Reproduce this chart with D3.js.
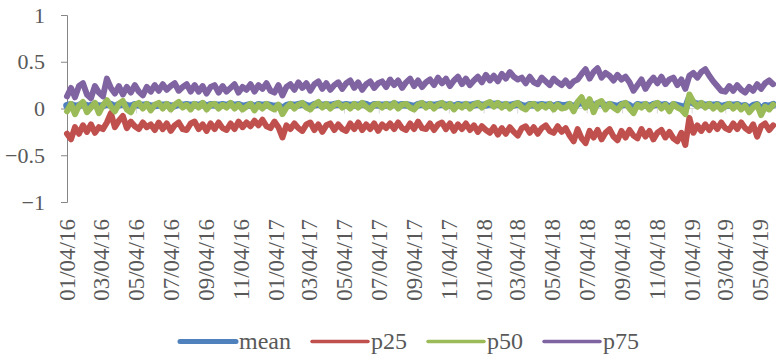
<!DOCTYPE html>
<html>
<head>
<meta charset="utf-8">
<script src="https://cdn.jsdelivr.net/npm/d3@7/dist/d3.min.js"></script>
<style>
  html, body { margin: 0; padding: 0; background: #fff; }
  svg { display: block; }
</style>
</head>
<body>
<script>
// weekly readings, first week starts 01/04/16 (mm/dd/yy)
const startDate = '01/04/16';

const tickLabels = ['01/04/16', '03/04/16', '05/04/16', '07/04/16', '09/04/16', '11/04/16',
  '01/04/17', '03/04/17', '05/04/17', '07/04/17', '09/04/17', '11/04/17',
  '01/04/18', '03/04/18', '05/04/18', '07/04/18', '09/04/18', '11/04/18',
  '01/04/19', '03/04/19', '05/04/19'];

const yTicks = [-1, -0.5, 0, 0.5, 1];

const seriesNames = ['mean', 'p25', 'p50', 'p75'];
const seriesColors = ['#4f81bd', '#c0504d', '#9bbb59', '#8064a2'];

const meanValues = [
  0.03, 0.04, 0.02, 0.03, 0.05, 0.02, 0.03, 0.04, 0.02, 0.03,
  0.05, 0.04, 0.02, 0.04, 0.05, 0.03, 0.02, 0.04, 0.04, 0.03,
  0.04, 0.02, 0.03, 0.04, 0.03, 0.04, 0.02, 0.03, 0.05, 0.03,
  0.04, 0.03, 0.04, 0.03, 0.05, 0.02, 0.04, 0.04, 0.03, 0.04,
  0.03, 0.05, 0.03, 0.04, 0.02, 0.03, 0.04, 0.02, 0.04, 0.03,
  0.04, 0.03, 0.02, 0.03, 0.0, 0.03, 0.04, 0.03, 0.04, 0.05,
  0.03, 0.02, 0.04, 0.05, 0.03, 0.04, 0.03, 0.04, 0.05, 0.03,
  0.04, 0.03, 0.04, 0.03, 0.05, 0.04, 0.02, 0.04, 0.04, 0.03,
  0.04, 0.03, 0.05, 0.03, 0.04, 0.04, 0.03, 0.02, 0.04, 0.05,
  0.03, 0.04, 0.03, 0.04, 0.05, 0.03, 0.04, 0.02, 0.04, 0.03,
  0.04, 0.03, 0.04, 0.05, 0.03, 0.04, 0.05, 0.04, 0.05, 0.03,
  0.04, 0.03, 0.04, 0.05, 0.03, 0.02, 0.04, 0.04, 0.03, 0.04,
  0.03, 0.04, 0.02, 0.04, 0.03, 0.03, 0.04, 0.01, 0.05, 0.08,
  0.03, 0.07, 0.01, 0.05, 0.06, 0.02, 0.04, 0.03, 0.02, 0.04,
  0.05, 0.03, 0.0, 0.04, 0.03, 0.04, 0.02, 0.04, 0.05, 0.03,
  0.04, 0.01, 0.04, 0.03, 0.02, 0.0, 0.11, 0.06, 0.04, 0.05,
  0.03, 0.04, 0.03, 0.04, 0.02, 0.03, 0.04, 0.03, 0.04, 0.02,
  0.03, 0.0, 0.03, 0.04, -0.02, 0.03, 0.02, 0.04
];

const p25Values = [
  -0.27, -0.33, -0.2, -0.27, -0.18, -0.25, -0.17, -0.26, -0.2, -0.22,
  -0.15, -0.05, -0.2, -0.13, -0.08, -0.21, -0.14, -0.19, -0.22, -0.15, -0.2,
  -0.17, -0.23, -0.15, -0.22, -0.16, -0.24, -0.18, -0.15, -0.22, -0.23, -0.16, -0.14,
  -0.22, -0.17, -0.24, -0.16, -0.22, -0.15, -0.21, -0.23, -0.16, -0.22, -0.14, -0.2,
  -0.15, -0.19, -0.13, -0.18, -0.12, -0.19, -0.21, -0.14, -0.2,
  -0.31,
  -0.18, -0.22, -0.16, -0.21, -0.24, -0.17, -0.15, -0.23, -0.17, -0.25, -0.18, -0.16, -0.23,
  -0.17, -0.22, -0.24, -0.16, -0.22, -0.15, -0.23, -0.17, -0.22, -0.16, -0.24, -0.17, -0.21,
  -0.16, -0.22, -0.15, -0.21, -0.23, -0.16, -0.22, -0.14, -0.21, -0.22, -0.16, -0.23, -0.17,
  -0.15, -0.22, -0.16, -0.24, -0.17, -0.22, -0.16, -0.23, -0.18, -0.25, -0.19, -0.23,
  -0.26, -0.2, -0.28, -0.21, -0.27, -0.2, -0.25, -0.29, -0.21, -0.19,
  -0.26, -0.2, -0.27, -0.21, -0.18, -0.24, -0.26, -0.19, -0.25, -0.21,
  -0.29, -0.35, -0.22, -0.32, -0.37, -0.24, -0.31, -0.23, -0.33, -0.26,
  -0.22, -0.3, -0.34, -0.24, -0.31, -0.23, -0.29, -0.32, -0.22, -0.3,
  -0.24, -0.33, -0.26, -0.23, -0.31, -0.25, -0.32, -0.35, -0.26, -0.39,
  -0.1,
  -0.26, -0.18, -0.24, -0.17, -0.23, -0.16, -0.22, -0.15, -0.21, -0.23, -0.16,
  -0.22, -0.15, -0.21, -0.24, -0.17, -0.3, -0.19, -0.16, -0.23, -0.18
];

const p50Values = [
  -0.03, 0.05, -0.06, 0.03, 0.07, -0.04, 0.01, 0.06, -0.05, 0.03,
  0.09, 0.02, -0.03, 0.05, 0.08, -0.01, -0.04, 0.04, 0.06, 0.0,
  0.05, -0.02, 0.04, 0.06, 0.0, 0.05, -0.01, 0.04, 0.07, 0.01,
  0.04, -0.01, 0.05, 0.01, 0.06, -0.01, 0.04, 0.05, 0.0, 0.04,
  0.01, 0.06, 0.0, 0.04, -0.01, 0.02, 0.05, -0.02, 0.04, 0.0,
  0.05, 0.01, -0.01, 0.04, -0.06, 0.01, 0.05, 0.0, 0.04, 0.06,
  0.01, -0.01, 0.04, 0.07, 0.01, 0.05, 0.0, 0.04, 0.06, 0.01,
  0.04, 0.0, 0.05, 0.01, 0.06, 0.02, -0.01, 0.04, 0.05, 0.01,
  0.05, 0.01, 0.06, 0.0, 0.04, 0.05, 0.01, -0.01, 0.04, 0.06,
  0.01, 0.05, 0.0, 0.04, 0.06, 0.01, 0.05, -0.01, 0.04, 0.01,
  0.05, 0.0, 0.04, 0.06, 0.01, 0.05, 0.07, 0.02, 0.06, 0.01,
  0.05, 0.0, 0.04, 0.06, 0.01, -0.01, 0.04, 0.05, 0.0, 0.04,
  0.01, 0.05, -0.01, 0.04, 0.0, 0.01, 0.05, -0.03, 0.07, 0.12,
  0.01, 0.1, -0.04, 0.06, 0.08, -0.01, 0.05, 0.01, -0.02, 0.04,
  0.06, 0.0, -0.05, 0.04, 0.01, 0.05, -0.01, 0.04, 0.06, 0.0,
  0.04, -0.03, 0.05, 0.01, -0.01, -0.06, 0.15, 0.07, 0.02, 0.06,
  0.01, 0.05, 0.0, 0.04, -0.01, 0.02, 0.05, 0.0, 0.04, -0.01,
  0.03, -0.04, 0.01, 0.04, -0.07, 0.02, -0.01, 0.04
];

const p75Values = [
  0.13, 0.22, 0.12, 0.24, 0.27, 0.15, 0.11, 0.24, 0.17, 0.13,
  0.32, 0.22,
  0.16, 0.24, 0.15, 0.23, 0.17, 0.25, 0.18, 0.14, 0.23, 0.18,
  0.25, 0.19, 0.26, 0.2, 0.24, 0.27, 0.19, 0.23, 0.26, 0.18, 0.25,
  0.18, 0.24, 0.16, 0.23, 0.25, 0.17, 0.24, 0.18, 0.22, 0.26, 0.17, 0.23,
  0.2, 0.26, 0.18, 0.25, 0.21, 0.27, 0.19, 0.17, 0.25, 0.14, 0.23,
  0.26, 0.2, 0.28, 0.22, 0.27, 0.19, 0.26, 0.29, 0.21, 0.27, 0.2, 0.25,
  0.28, 0.21, 0.27, 0.3, 0.22, 0.28, 0.2, 0.26, 0.29, 0.22, 0.27,
  0.29, 0.23, 0.31, 0.25, 0.3, 0.22, 0.28, 0.32, 0.24, 0.3, 0.23, 0.28,
  0.31, 0.25, 0.33, 0.27, 0.32, 0.24, 0.3, 0.34, 0.26, 0.32, 0.25, 0.3,
  0.34, 0.28, 0.36, 0.3, 0.35, 0.29,
  0.37, 0.32, 0.39, 0.34, 0.31,
  0.33, 0.27, 0.34, 0.28, 0.26, 0.33, 0.29, 0.25, 0.32, 0.28,
  0.25, 0.3, 0.24, 0.29, 0.31,
  0.37, 0.42, 0.32, 0.39, 0.43, 0.33, 0.38,
  0.35, 0.3, 0.36, 0.31, 0.34, 0.28,
  0.19, 0.25, 0.31, 0.21, 0.28,
  0.33, 0.27, 0.34, 0.26, 0.31, 0.33, 0.25, 0.31, 0.21,
  0.35, 0.38, 0.33, 0.39, 0.42, 0.35, 0.29,
  0.24, 0.19, 0.18, 0.24, 0.19, 0.25, 0.2, 0.17, 0.23, 0.19, 0.26, 0.21,
  0.27, 0.3, 0.26
];

const width = 776;
const height = 360;
const margin = {top: 15, left: 67, bottom: 158};
const fontFamily = 'Liberation Serif, Times New Roman, serif';
const textColor = '#595959';

const parse = d3.timeParse('%m/%d/%y');
const t0 = parse(startDate);
const seriesValues = [meanValues, p25Values, p50Values, p75Values];
const weeks = meanValues.map((_, i) => d3.timeDay.offset(t0, i * 7));

const x = d3.scaleTime()
  .domain([parse(tickLabels[0]), parse(tickLabels[tickLabels.length - 1])])
  .range([margin.left, 760]);

const y = d3.scaleLinear()
  .domain([-1, 1])
  .range([height - margin.bottom, margin.top]);

const $svg = d3.select('body').append('svg')
  .attr('width', width)
  .attr('height', height)
  .attr('font-family', fontFamily);

// horizontal axis crosses at zero, its labels sit below the plot
const xAxis = d3.axisBottom(x)
  .tickValues(tickLabels.map(parse))
  .tickSize(5)
  .tickFormat('');

const $xAxis = $svg.append('g')
  .attr('class', 'axis axis--x')
  .attr('transform', `translate(0, ${y(0)})`)
  .call(xAxis);
$xAxis.select('.domain').attr('d', `M${margin.left},0H${width}`).attr('stroke', '#d9d9d9');
$xAxis.selectAll('.tick line').attr('stroke', '#d9d9d9');

$svg.append('g')
  .attr('class', 'x-labels')
  .selectAll('text')
  .data(tickLabels)
  .enter()
  .append('text')
  .attr('transform', d => `translate(${x(parse(d))}, ${y(-1) + 17}) rotate(-90)`)
  .attr('text-anchor', 'end')
  .attr('dy', '0.35em')
  .attr('font-size', 23)
  .attr('fill', textColor)
  .text(d => d);

const yAxis = d3.axisLeft(y)
  .tickValues(yTicks)
  .tickSize(6)
  .tickPadding(16)
  .tickFormat(d3.format('~g'));

const $yAxis = $svg.append('g')
  .attr('class', 'axis axis--y')
  .attr('transform', `translate(${margin.left}, 0)`)
  .call(yAxis)
  .attr('font-family', fontFamily)
  .attr('font-size', 22);
$yAxis.select('.domain').attr('stroke', '#868686');
$yAxis.selectAll('.tick line').attr('stroke', '#868686');
$yAxis.selectAll('.tick text').attr('fill', textColor);

const line = d3.line()
  .x((d, i) => x(weeks[i]))
  .y(d => y(d));

const strokeWidths = [7.5, 6, 6, 6];

$svg.append('g')
  .selectAll('path')
  .data(seriesValues)
  .enter()
  .append('path')
  .attr('d', line)
  .attr('fill', 'none')
  .attr('stroke', (d, i) => seriesColors[i])
  .attr('stroke-width', (d, i) => strokeWidths[i])
  .attr('stroke-linejoin', 'round')
  .attr('stroke-linecap', 'round');

// legend
const $legend = $svg.append('g').attr('class', 'legend');
let lx = 180;
seriesNames.forEach((name, i) => {
  $legend.append('line')
    .attr('x1', lx).attr('x2', lx + 56)
    .attr('y1', 341.5).attr('y2', 341.5)
    .attr('stroke', seriesColors[i])
    .attr('stroke-width', i === 0 ? 5 : 3.5)
    .attr('stroke-linecap', 'round');
  const $t = $legend.append('text')
    .attr('x', lx + 59)
    .attr('y', 349)
    .attr('font-size', 24)
    .attr('fill', textColor)
    .text(name);
  lx += 59 + $t.node().getComputedTextLength() + 21;
});
</script>
</body>
</html>
